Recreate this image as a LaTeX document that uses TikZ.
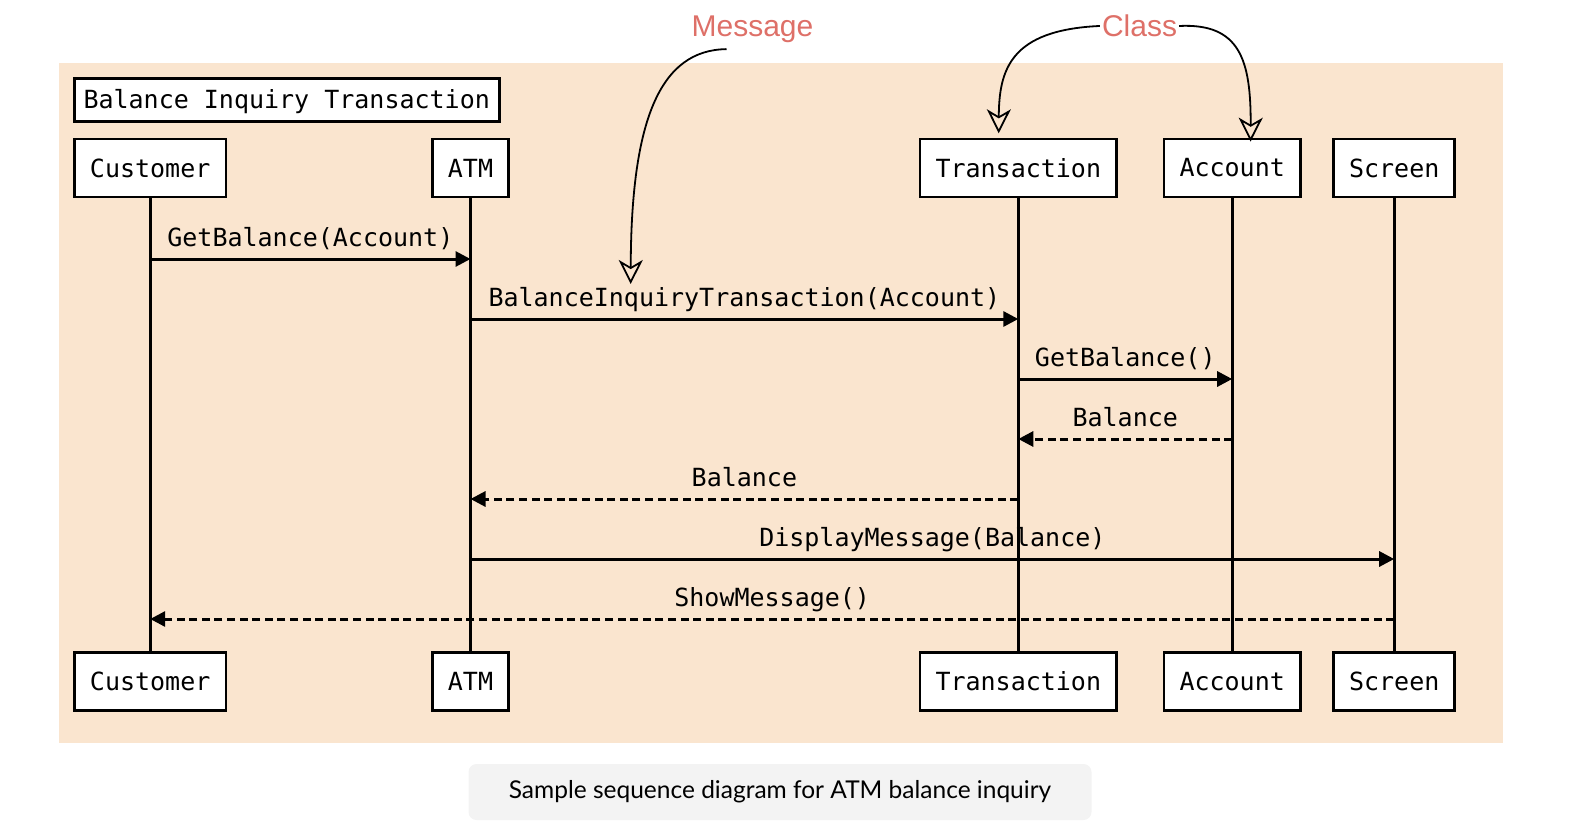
\documentclass[tikz,border=0pt]{standalone}
\usepackage{fontspec}
\setmainfont{Liberation Sans}
\newfontfamily\seqmono{DejaVu Sans Mono}
\newfontfamily\capfont{Lato}
\usepackage{xcolor}
\usetikzlibrary{arrows.meta}
\definecolor{seqbg}{RGB}{250,229,207}
\definecolor{notered}{RGB}{222,112,104}
\definecolor{capbg}{RGB}{243,243,243}

\tikzset{
  lifebox/.style={draw=black, fill=white, line width=2.8pt, inner xsep=15.5pt,
    minimum height=58pt, font=\seqmono\fontsize{25}{30}\selectfont},
  lifeline/.style={line width=3pt},
  call/.style={line width=3pt, -{Triangle[length=15pt,width=15pt]}},
  reply/.style={call, dash pattern=on 8pt off 4.6pt},
  msglabel/.style={anchor=base, yshift=12.5pt, font=\seqmono\fontsize{25}{30}\selectfont},
  notetext/.style={text=notered, inner sep=2pt, anchor=base, font=\fontsize{30}{36}\selectfont},
  notearrow/.style={line width=1.8pt, -{Stealth[open,length=24pt,width=24pt,inset=7pt]}}
}

\begin{document}
\begin{tikzpicture}[x=1pt, y=-1pt]
% canvas is 1588 x 830 px, y grows downward
\useasboundingbox (0,0) rectangle (1588,830);

% 1. Background panel
\fill[seqbg] (58.7,63) rectangle (1503,742.7);

% 2. Frame title
\node[lifebox, inner xsep=0pt, inner ysep=0pt, minimum width=425pt, minimum height=43pt,
  text height=23.2pt, text depth=6pt] (title)
  at (286.7,99.7) {Balance Inquiry Transaction};

% 3. Participants (top + bottom boxes) and lifelines
\pgfmathsetmacro{\ytop}{168}
\pgfmathsetmacro{\ybot}{681.2}
\foreach \name/\x/\txt in {cust/150.2/Customer, atm/470.5/ATM, trans/1018.3/Transaction,
                           acct/1232.2/Account, scr/1394.2/Screen} {
  \node[lifebox] (\name) at (\x,\ytop) {\txt};
  \node[lifebox] (\name-bot) at (\x,\ybot) {\txt};
  \draw[lifeline] (\name) -- (\name-bot);
}

% 4. Messages -- one row every 60px
\foreach \from/\to/\y/\kind/\txt in {
    cust/atm/259/call/{GetBalance(Account)},
    atm/trans/319/call/{BalanceInquiryTransaction(Account)},
    trans/acct/379/call/{GetBalance()},
    acct/trans/439/reply/{Balance},
    trans/atm/499/reply/{Balance},
    atm/scr/559/call/{DisplayMessage(Balance)},
    scr/cust/619/reply/{ShowMessage()}} {
  \coordinate (\from-\y) at (\from |- 0,\y);
  \coordinate (\to-\y) at (\to |- 0,\y);
  \draw[\kind] (\from-\y) -- node[msglabel] {\txt} (\to-\y);
}

% 5. Annotations
\node[notetext] (msgnote) at (752.5,36.7) {Message};
\node[notetext] (clsnote) at (1139.5,36.7) {Class};
\coordinate (msgtip) at (630.7,284);
\coordinate (transtip) at (998.7,133.3);
\coordinate (accttip) at (1250.6,141.7);
\draw[notearrow] ([xshift=-26pt,yshift=-4pt]msgnote.south)
  .. controls (660,50) and (631,120) .. (msgtip);
\draw[notearrow] (clsnote.west) .. controls (1010,30) and (999,70) .. (transtip);
\draw[notearrow] (clsnote.east) .. controls (1240,23) and (1251,60) .. (accttip);

% 6. Caption
\node[fill=capbg, rounded corners=8pt, minimum width=623pt, minimum height=56pt,
  font=\capfont\fontsize{24.5}{29}\selectfont] (caption) at (780,792)
  {\raisebox{-2pt}{Sample sequence diagram for ATM balance inquiry}};

\end{tikzpicture}
\end{document}
